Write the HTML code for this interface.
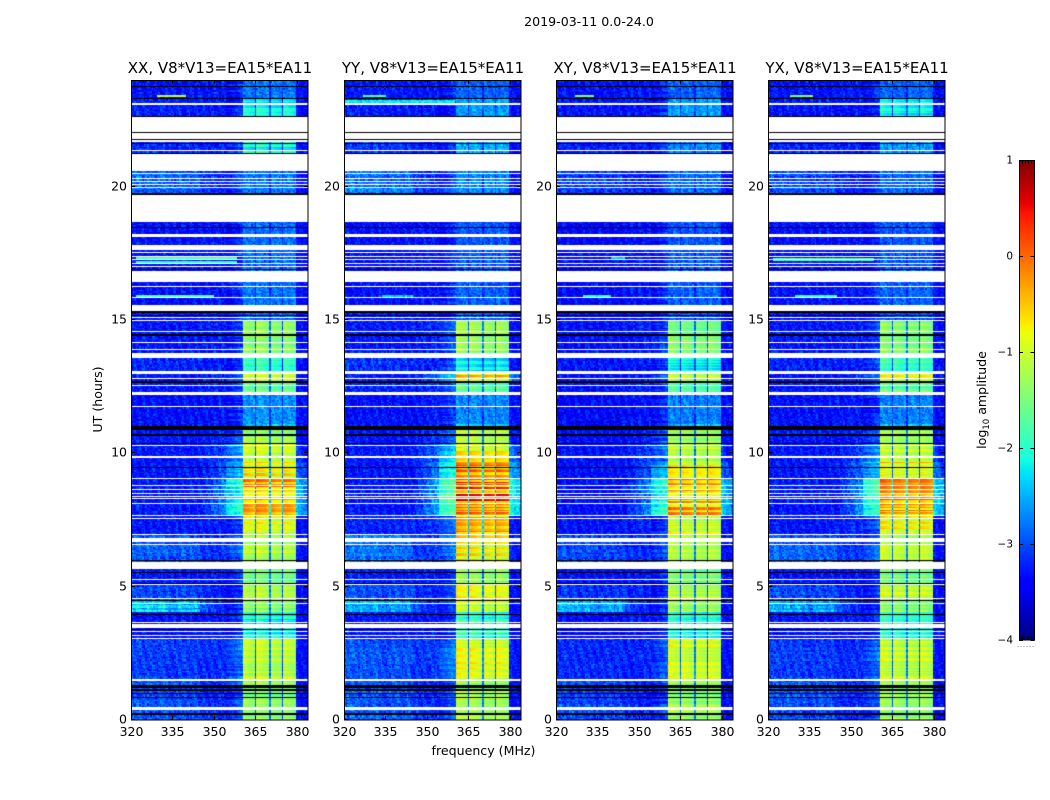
<!DOCTYPE html>
<html lang="en">
<head>
<meta charset="utf-8">
<title>2019-03-11 amplitude spectrogram</title>
<style>
html,body{margin:0;padding:0;background:#fff;}
#chart{position:relative;width:1050px;height:800px;overflow:hidden;background:#fff;}
canvas{position:absolute;display:block;}
svg{position:absolute;left:0;top:0;}
text{font-family:"DejaVu Sans","Liberation Sans",sans-serif;fill:#000;}
</style>
</head>
<body>
<div id="chart"></div>
<script>
/* ---- Chart data ---- */
const panelTitles = ["XX, V8*V13=EA15*EA11","YY, V8*V13=EA15*EA11","XY, V8*V13=EA15*EA11","YX, V8*V13=EA15*EA11"];
const panelKeys = ["xx","yy","xy","yx"];
const freqTicks = [320,335,350,365,380];
const hourTicks = [0,5,10,15,20];
const colorTicks = [1,0,-1,-2,-3,-4];
const sampleHours = 0.0375;   /* one time sample, in hours */
const channelMHz = 0.58;      /* one frequency channel, in MHz */

/* time-segment boundaries, in samples from 00:00 */
const segmentStarts = [0,40,82,108,120,137,151,158,185,205,242,258,277,290,296,326,339,347,366,400,415,440,498,527,560,580,603,622];

/* log10 amplitude per time segment: the 360-380 MHz band */
const bandXX = [-1.45,-1.2,-2.2,-1.45,-1.25,-1.7,-1.7,-1.25,-1.0,-0.5,-0.8,-1.1,-1.35,-2.4,-2.65,-1.7,-1.1,-1.9,-1.4,-2.9,-2.8,-2.85,-3,-2.8,-2.2,-3,-2.2,-2.8];
const bandYY = [-1.3,-1.0,-2.0,-1.15,-1.0,-1.35,-1.35,-0.85,-0.6,-0.05,-0.4,-0.85,-1.1,-2.2,-2.7,-1.8,-0.4,-2.3,-1.4,-2.9,-2.9,-2.95,-3,-2.7,-2.5,-3,-2.6,-2.9];
const bandXY = [-1.4,-1.1,-2.1,-1.45,-1.2,-1.6,-1.6,-1.25,-1.0,-0.5,-0.9,-1.15,-1.35,-2.4,-2.75,-1.75,-1.2,-2.2,-1.55,-3,-2.9,-2.95,-3,-2.85,-2.7,-3,-2.6,-2.9];
const bandYX = [-1.4,-1.15,-2.1,-1.45,-1.15,-1.6,-1.6,-1.2,-0.95,-0.4,-0.8,-1.1,-1.35,-2.4,-2.75,-1.7,-0.8,-2.0,-1.5,-3,-2.9,-2.95,-3,-2.85,-2.6,-3,-2.2,-2.9];

/* log10 amplitude per time segment: 320-345 MHz */
const lowXX = [-3.0,-3.1,-3.35,-2.4,-3.05,-3.3,-3.3,-2.95,-3.3,-3.3,-3.3,-3.3,-3.3,-3.35,-3.35,-3.3,-3.3,-3.2,-3.3,-3.3,-3.35,-3.35,-3.4,-2.95,-3.2,-3.4,-3.25,-3.35];
const lowYY = [-2.95,-3.0,-3.3,-2.6,-3.05,-3.25,-3.25,-2.85,-3.25,-3.3,-3.3,-3.3,-3.3,-3.3,-3.35,-3.25,-3.25,-3.15,-3.3,-3.25,-3.35,-3.35,-3.4,-2.8,-3.1,-3.4,-3.25,-3.3];
const lowXY = [-3.05,-3.2,-3.4,-2.6,-3.15,-3.35,-3.35,-3.05,-3.35,-3.35,-3.35,-3.35,-3.35,-3.4,-3.4,-3.35,-3.35,-3.3,-3.35,-3.35,-3.4,-3.4,-3.4,-3.1,-3.25,-3.4,-3.3,-3.35];
const lowYX = [-3.0,-3.1,-3.35,-2.55,-3.05,-3.3,-3.3,-2.95,-3.3,-3.3,-3.3,-3.3,-3.3,-3.35,-3.35,-3.3,-3.3,-3.25,-3.3,-3.3,-3.35,-3.35,-3.4,-3.0,-3.2,-3.4,-3.3,-3.35];

/* log10 amplitude per time segment: the 354-360 MHz shoulder */
const edgeXX = [-3.1,-3.0,-3.3,-3.3,-3.3,-3.3,-3.3,-3.0,-3.2,-2.2,-2.6,-2.8,-3.1,-3.3,-3.3,-3.2,-3.1,-3.2,-3.2,-3.3,-3.3,-3.35,-3.4,-3.2,-3.2,-3.4,-3.3,-3.3];
const edgeYY = [-3.1,-2.9,-3.3,-3.2,-3.2,-3.2,-3.2,-2.9,-3.0,-1.8,-2.2,-2.5,-2.9,-3.2,-3.2,-3.1,-2.4,-3.1,-3.1,-3.3,-3.3,-3.35,-3.4,-3.1,-3.2,-3.4,-3.3,-3.3];
const edgeXY = [-3.2,-3.1,-3.3,-3.3,-3.3,-3.3,-3.3,-3.1,-3.2,-2.1,-2.6,-2.9,-3.1,-3.3,-3.3,-3.2,-3.1,-3.2,-3.2,-3.3,-3.3,-3.35,-3.4,-3.2,-3.2,-3.4,-3.3,-3.3];
const edgeYX = [-3.1,-3.0,-3.3,-3.3,-3.3,-3.3,-3.3,-3.0,-3.1,-2.0,-2.5,-2.8,-3.1,-3.3,-3.3,-3.2,-2.9,-3.2,-3.2,-3.3,-3.3,-3.35,-3.4,-3.2,-3.2,-3.4,-3.3,-3.3];

/* subband centres' offset, 360-365 / 365-370 / 370-375 / 375-380 MHz */
const subbandXX = [0.05,0.12,0.0,0.05];
const subbandYY = [0.12,0.08,0.0,0.02];
const subbandXY = [0.08,0.05,0.02,0.04];
const subbandYX = [0.1,0.05,0.02,0.05];
const subbandEdges = [360.5,365,370,375,380];
const notchFreqs = [365,370,375];

/* low-frequency ripple pattern, 320-345 MHz in 2 MHz steps */
const lowRipple = [0.25,0.35,0.15,0.3,0.1,0.3,0.2,-0.05,0.15,0.25,0.05,0.2,0.0];

/* narrow interference lines: sample, from MHz, to MHz, log10 amplitude */
const linesXX = [[624,329,340,-1.0],[462,322,358,-1.8],[458,322,358,-1.9],[424,322,350,-1.7]];
const linesYY = [[624,327,335,-1.7],[619,320,360,-2.2],[618,320,360,-2.3],[424,334,345,-2.4]];
const linesXY = [[624,327,334,-1.4],[424,330,340,-2.0],[462,340,345,-2.4]];
const linesYX = [[624,328,336,-1.4],[461,322,358,-1.8],[460,322,358,-2.0],[424,330,345,-1.9]];

/* missing samples [start,end): shown white */
const blankRuns = [[615,617],[588,603],[581,587],[578,580],[569,570.5],[549,566],[546,547],[541.5,542.5],[538,539],[535,536],[532,533],[498,525],[483,486],[470,475],[467,468],[463,464],[460,461],[456.5,457.5],[453.5,454.5],[438,449],[433,434],[422,423],[409,415.5],[402,403],[399.5,400.5],[388.5,389.5],[377,378],[370.5,371.5],[362,367],[346,349],[341,342],[334.5,335.5],[325.5,328],[313.5,314.5],[274,275],[262,264],[241.5,242.5],[234.5,235.5],[230,231],[226.5,227.5],[223.5,224.5],[221,222],[216.5,217.5],[204.5,205.5],[201.5,202.5],[185.5,186.5],[178,182],[175,176],[151,158],[140,141],[135,136],[121,122],[116.5,117.5],[97,98],[92,96],[88.5,89.5],[84,85],[81,82],[39,41],[10,13]];
/* flagged samples [start,end): shown black */
const flaggedRuns = [[633.5,634.5],[621,622],[603,604],[587,588],[580,581],[576.5,577.5],[566,567],[525,527.5],[492.5,493.5],[450,451],[408,409],[407,408],[404.5,405.5],[384.5,386],[337,339],[290,294],[284,286],[276,277.5],[252.5,253.5],[159,160],[147.5,148.5],[136.5,137.5],[119.5,120.5],[105.5,106.5],[90,91],[32,35],[29,31],[26.5,27.5],[22.5,23.5],[5.5,7.5]];

/* fine-grain look-up: an approximate visual texture, not read cell by cell */
const speckle = [0.12,-0.31,0.27,-0.08,0.38,-0.22,0.05,-0.41,0.19,0.33,-0.14,-0.36,0.09,0.24,-0.27,0.41,-0.03,-0.18,0.3,-0.39,0.16,-0.11,0.22,-0.29,0.35,0.02,-0.34,0.14,-0.2,0.28,-0.06,0.43,-0.25,0.07,-0.37,0.2,0.31,-0.16,-0.43,0.11,0.26,-0.24,0.37,-0.01,-0.32,0.17,-0.12];

const bandSeries = [bandXX,bandYY,bandXY,bandYX];
const lowSeries = [lowXX,lowYY,lowXY,lowYX];
const edgeSeries = [edgeXX,edgeYY,edgeXY,edgeYX];
const subbandSeries = [subbandXX,subbandYY,subbandXY,subbandYX];
const lineSeries = [linesXX,linesYY,linesXY,linesYX];

/* ---- Layout and axis functions ---- */
const panelLefts = [131,344,556,768];
const panelWidth = 177;
const plotTop = 80;
const plotBottom = 720;
const freqMin = 320;
const freqMax = 384;
const cbarLeft = 1019;
const cbarWidth = 15.5;
const cbarTop = 160;
const cbarBottom = 640;
const vMin = -4;
const vMax = 1;

function xScale(panel, mhz){ return panelLefts[panel] + (mhz - freqMin) / (freqMax - freqMin) * panelWidth; }
function yScale(hours){ return plotBottom - hours / 24 * (plotBottom - plotTop); }
function cbarY(v){ return cbarBottom - (v - vMin) / (vMax - vMin) * (cbarBottom - cbarTop); }

function ramp(t, pts){
  for(let i = 1; i < pts.length; i++){
    if(t <= pts[i][0]){
      const a = pts[i-1], b = pts[i];
      return a[1] + (b[1]-a[1]) * (t-a[0]) / (b[0]-a[0]);
    }
  }
  return pts[pts.length-1][1];
}
function jet(v){
  const t = Math.max(0, Math.min(1, (v - vMin) / (vMax - vMin)));
  const r = ramp(t, [[0,0],[0.35,0],[0.66,1],[0.89,1],[1,0.5]]);
  const g = ramp(t, [[0,0],[0.125,0],[0.375,1],[0.64,1],[0.91,0],[1,0]]);
  const b = ramp(t, [[0,0.5],[0.11,1],[0.34,1],[0.65,0],[1,0]]);
  return "rgb(" + Math.round(r*255) + "," + Math.round(g*255) + "," + Math.round(b*255) + ")";
}
function inRuns(c, runs){
  for(const run of runs){ if(c >= run[0] && c < run[1]) return true; }
  return false;
}
function segmentIndex(c){
  let k = 0;
  for(let i = 0; i < segmentStarts.length; i++){ if(c >= segmentStarts[i]) k = i; }
  return k;
}

/* log10 amplitude of one cell, from the arrays above */
function cellValue(panel, mhz, seg, grain, rowTone, sampleCentre){
  for(const l of lineSeries[panel]){
    if(Math.abs(sampleCentre - l[0]) <= 0.5 && mhz >= l[1] && mhz <= l[2]) return l[3] + grain * 0.6;
  }
  const low = lowSeries[panel][seg];
  const edge = edgeSeries[panel][seg];
  const band = bandSeries[panel][seg];
  if(mhz >= subbandEdges[0] && mhz < subbandEdges[4]){
    let sub = 0;
    for(let i = 0; i < 4; i++){ if(mhz >= subbandEdges[i]) sub = i; }
    const pos = (mhz - subbandEdges[sub]) / (subbandEdges[sub + 1] - subbandEdges[sub]);
    const hot = Math.max(0, band + 1.2);
    let v = band + subbandSeries[panel][sub] + (0.5 - pos) * 0.3 + rowTone * (0.55 + hot * 0.9) + grain * 0.18;
    if(band < -2.3) v = band + grain * 0.75;
    for(const n of notchFreqs){
      const d = Math.abs(mhz - n);
      if(d < 0.38) v -= Math.min(1.9, (band + 3.2) * 0.85);
    }
    return v;
  }
  if(mhz >= subbandEdges[4]){
    return Math.max(-3.35, edge - 0.25 - (mhz - 380) * 0.1) + grain * 0.7;
  }
  if(mhz >= 354){
    return edge + (mhz - 357) * 0.06 + grain * 0.55 + rowTone * 0.5;
  }
  if(mhz >= 345){
    const mix = (mhz - 345) / 9;
    return (low * (1 - mix) + edge * mix) * 0.5 + -3.3 * 0.5 + grain * 0.85;
  }
  const rip = lowRipple[Math.min(lowRipple.length - 1, Math.floor((mhz - 320) / 2))];
  const strength = Math.max(0, low + 3.35);
  return low + (rip - 0.15) * strength * 1.0 + rowTone * strength * 0.6 + grain * 0.85;
}

const chart = document.getElementById("chart");

/* ---- Heatmaps ---- */
panelKeys.forEach(function(key, p){
  const cv = document.createElement("canvas");
  const w = panelWidth;
  const h = plotBottom - plotTop;
  cv.width = w;
  cv.height = h;
  cv.style.left = panelLefts[p] + "px";
  cv.style.top = plotTop + "px";
  
  
  const ctx = cv.getContext("2d");
  ctx.fillStyle = "#fff";
  ctx.fillRect(0, 0, w, h);
  const nCh = Math.ceil((freqMax - freqMin) / channelMHz);
  for(let r = 0; r < 640; r++){
    const c = r + 0.5;
    const y0 = yScale(c * sampleHours + sampleHours / 2) - plotTop;
    if(inRuns(c, blankRuns)) continue;
    if(inRuns(c, flaggedRuns)){
      ctx.fillStyle = "#000";
      ctx.fillRect(0, y0, w, 1);
      continue;
    }
    const seg = segmentIndex(c);
    const gr = Math.floor(r / 1.4);
    const rowTone = speckle[(gr * 5 + p * 3) % speckle.length];
    for(let ch = 0; ch < nCh; ch++){
      const mhz = freqMin + (ch + 0.5) * channelMHz;
      const g1 = speckle[(ch * 13 + gr * 29 + p * 11) % speckle.length];
      const g2 = speckle[(ch * ch + gr * gr * gr + p * 7) % speckle.length];
      const v = cellValue(p, mhz, seg, (g1 + g2) * 0.62, rowTone, c);
      const xL = xScale(p, freqMin + ch * channelMHz) - panelLefts[p];
      const xR = xScale(p, freqMin + (ch + 1) * channelMHz) - panelLefts[p];
      ctx.fillStyle = jet(v);
      ctx.fillRect(Math.round(xL), y0, Math.max(1, Math.round(xR) - Math.round(xL)), 1);
    }
  }
  chart.appendChild(cv);
});

/* ---- Colour bar ---- */
const cbarCanvas = document.createElement("canvas");
cbarCanvas.width = 16;
cbarCanvas.height = cbarBottom - cbarTop;
cbarCanvas.style.left = cbarLeft + "px";
cbarCanvas.style.top = cbarTop + "px";


const cbarCtx = cbarCanvas.getContext("2d");
for(let i = 0; i < cbarCanvas.height; i++){
  cbarCtx.fillStyle = jet(vMax - (i + 0.5) / cbarCanvas.height * (vMax - vMin));
  cbarCtx.fillRect(0, i, 16, 1);
}
chart.appendChild(cbarCanvas);

/* ---- SVG overlay: frames, ticks, text ---- */
const NS = "http://www.w3.org/2000/svg";
const svg = document.createElementNS(NS, "svg");
svg.setAttribute("width", "1050");
svg.setAttribute("height", "800");
svg.setAttribute("viewBox", "0 0 1050 800");


chart.appendChild(svg);

function addText(name, str, x, y, size, anchor, rotate){
  const t = document.createElementNS(NS, "text");
  t.setAttribute("x", x);
  t.setAttribute("y", y);
  t.setAttribute("font-size", size);
  t.setAttribute("text-anchor", anchor);
  if(rotate) t.setAttribute("transform", "rotate(" + rotate + " " + x + " " + y + ")");
  
  
  t.textContent = str;
  svg.appendChild(t);
  return t;
}
function addLine(name, x1, y1, x2, y2, color){
  const l = document.createElementNS(NS, "line");
  l.setAttribute("x1", x1);
  l.setAttribute("y1", y1);
  l.setAttribute("x2", x2);
  l.setAttribute("y2", y2);
  l.setAttribute("stroke", color || "#000");
  l.setAttribute("stroke-width", "1");
  
  
  svg.appendChild(l);
  return l;
}
function addFrame(name, x, y, w, h){
  const r = document.createElementNS(NS, "rect");
  r.setAttribute("x", x);
  r.setAttribute("y", y);
  r.setAttribute("width", w);
  r.setAttribute("height", h);
  r.setAttribute("fill", "none");
  r.setAttribute("stroke", "#000");
  r.setAttribute("stroke-width", "1");
  
  
  svg.appendChild(r);
  return r;
}

panelKeys.forEach(function(key, p){
  const L = panelLefts[p];
  addFrame('frame-' + key, L + 0.5, plotTop + 0.5, panelWidth - 0.5, plotBottom - plotTop - 0.5);
  addText('title-' + key, panelTitles[p], L + panelWidth / 2 + 0.5, 73, 15, "middle");
  freqTicks.forEach(function(f){
    const x = Math.round(xScale(p, f)) + 0.5;
    addLine('x-tick-bottom-' + key + '-' + f, x, plotBottom, x, plotBottom - 4);
    addLine('x-tick-top-' + key + '-' + f, x, plotTop, x, plotTop + 4);
    addText('x-tick-label-' + key + '-' + f, String(f), x, 736, 12.5, "middle");
  });
  hourTicks.forEach(function(hr){
    const y = Math.round(yScale(hr)) - 0.5;
    addLine('y-tick-left-' + key + '-' + hr, L, y, L + 4, y);
    addLine('y-tick-right-' + key + '-' + hr, L + panelWidth, y, L + panelWidth - 4, y);
    addText('y-tick-label-' + key + '-' + hr, String(hr), L - 4, y + 4, 12.5, "end");
  });
});

addText('figure-title', "2019-03-11 0.0-24.0", 589, 26, 12.6, "middle");
addText('x-axis-title', "frequency (MHz)", 483.5, 755, 12.6, "middle");
addText('y-axis-title', "UT (hours)", 102, 399.5, 12.6, "middle", -90);

/* colour bar frame, ticks and labels */
addFrame('colorbar-frame', cbarLeft + 0.5, cbarTop + 0.5, cbarWidth - 0.5, cbarBottom - cbarTop - 0.5);
colorTicks.forEach(function(v){
  const y = Math.round(cbarY(v)) + 0.5;
  addLine('colorbar-tick-left-' + v, cbarLeft, y, cbarLeft + 4, y);
  addLine('colorbar-tick-right-' + v, cbarLeft + cbarWidth, y, cbarLeft + cbarWidth - 4, y);
  addText('colorbar-tick-label-' + v, v < 0 ? "\u2212" + Math.abs(v) : String(v), 1013, y + 3, 10.5, "end");
});
[0.2,0.4,0.6,0.8].forEach(function(frac, i){
  const x = Math.round(cbarLeft + frac * cbarWidth) + 0.5;
  addLine('colorbar-minor-tick-top-' + i, x, cbarTop, x, cbarTop + 4);
  addLine('colorbar-minor-tick-bottom-' + i, x, cbarBottom, x, cbarBottom - 4);
});
const dotRow = addLine('colorbar-dotted-marks', 1017.5, 646.5, 1035, 646.5, "#888");
dotRow.setAttribute("stroke-dasharray", "1 2");
const cbarTitle = addText('colorbar-title', "", 986, 400, 12.6, "middle", -90);
cbarTitle.appendChild(document.createTextNode("log"));
const cbarSub = document.createElementNS(NS, "tspan");
cbarSub.setAttribute("font-size", "8.5");
cbarSub.setAttribute("dy", "3");


cbarSub.textContent = "10";
cbarTitle.appendChild(cbarSub);
const cbarRest = document.createElementNS(NS, "tspan");
cbarRest.setAttribute("dy", "-3");


cbarRest.textContent = " amplitude";
cbarTitle.appendChild(cbarRest);
</script>
</body>
</html>
